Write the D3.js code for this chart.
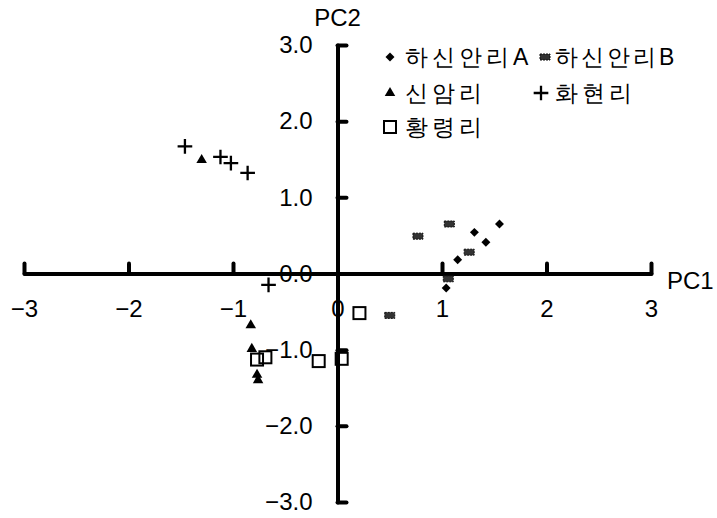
<!DOCTYPE html>
<meta charset="utf-8">
<style>
  body { margin: 0; background: #fff; }
  text { font-family: "Liberation Sans", Arial, sans-serif; fill: #000; }
  .axis path, .axis line { stroke: #000; stroke-width: 4; stroke-linecap: round; }
</style>
<body>
<script src="https://d3js.org/d3.v7.min.js"></script>
<script>

  // tick values
  var ticks = [-3, -2, -1, 0, 1, 2, 3];

  // series (PC1, PC2)
  var hasinA_x = [1.55, 1.31, 1.42, 1.15, 1.04];
  var hasinA_y = [0.65, 0.54, 0.41, 0.18, -0.19];

  var hasinB_x = [0.77, 1.07, 1.26, 1.06, 0.50];
  var hasinB_y = [0.49, 0.65, 0.28, -0.07, -0.55];

  var sinam_x = [-1.30, -0.83, -0.82, -0.77, -0.76];
  var sinam_y = [1.49, -0.68, -0.99, -1.33, -1.40];

  var hwahyeon_x = [-1.46, -1.12, -1.02, -0.86, -0.66];
  var hwahyeon_y = [1.67, 1.53, 1.45, 1.32, -0.15];

  var hwangnyeong_x = [0.21, -0.77, -0.69, -0.18, 0.04];
  var hwangnyeong_y = [-0.52, -1.13, -1.10, -1.15, -1.12];

  var seriesNames = ["하신안리A", "하신안리B", "신암리", "화현리", "황령리"];

  var width = 717, height = 518;

  var svg = d3.select("body").append("svg")
    .attr("width", width)
    .attr("height", height);

  var x = d3.scaleLinear().domain([-3, 3]).range([24, 651]);
  var y = d3.scaleLinear().domain([-3, 3]).range([502, 45]);

  // x axis through y = 0, ticks pointing up, labels below
  svg.append("g")
    .attr("class", "axis")
    .attr("transform", "translate(0," + y(0) + ")")
    .call(d3.axisBottom(x).tickValues(ticks).tickSize(-10).tickSizeOuter(0).tickPadding(29)
      .tickFormat(function (d) { return d < 0 ? "\u2212" + Math.abs(d) : d; }))
    .call(function (g) { g.selectAll("text").attr("dy", "0.6em"); });

  // y axis through x = 0, ticks pointing right, labels left
  svg.append("g")
    .attr("class", "axis")
    .attr("transform", "translate(" + x(0) + ",0)")
    .call(d3.axisLeft(y).tickValues(ticks).tickSize(-9).tickSizeOuter(0).tickPadding(25)
      .tickFormat(function (d) { return d === 0 ? "0.0" : d3.format(".1f")(d); }));

  svg.selectAll(".axis .domain").attr("fill", "none");
  svg.selectAll(".axis").attr("font-size", 24).attr("font-family", "Liberation Sans, Arial, sans-serif");

  // axis titles
  svg.append("text").attr("x", x(0)).attr("y", 26).attr("text-anchor", "middle")
    .attr("font-size", 24).text("PC2");
  svg.append("text").attr("x", 667).attr("y", y(0) + 15)
    .attr("font-size", 24).text("PC1");

  // marker drawers
  function drawDiamond(g, px, py) {
    g.append("path").attr("transform", "translate(" + px + "," + py + ") rotate(45)")
      .attr("d", d3.symbol().type(d3.symbolSquare).size(40)).attr("fill", "#000");
  }
  function drawBar(g, px, py) {
    g.append("rect").attr("x", px - 5).attr("y", py - 3).attr("width", 10).attr("height", 6)
      .attr("fill", "#333").attr("stroke", "#111").attr("stroke-width", 1)
      .attr("stroke-dasharray", "2,1");
  }
  function drawTriangle(g, px, py) {
    g.append("path").attr("transform", "translate(" + px + "," + py + ")")
      .attr("d", d3.symbol().type(d3.symbolTriangle).size(48)).attr("fill", "#000");
  }
  function drawPlus(g, px, py) {
    g.append("path").attr("transform", "translate(" + px + "," + py + ")")
      .attr("d", d3.symbol().type(d3.symbolPlus).size(72))
      .attr("fill", "none").attr("stroke", "#000").attr("stroke-width", 2.3);
  }
  function drawSquare(g, px, py) {
    g.append("rect").attr("x", px - 6).attr("y", py - 6).attr("width", 12).attr("height", 12)
      .attr("fill", "none").attr("stroke", "#000").attr("stroke-width", 2);
  }

  var series = [
    { xs: hasinA_x, ys: hasinA_y, draw: drawDiamond },
    { xs: hasinB_x, ys: hasinB_y, draw: drawBar },
    { xs: sinam_x, ys: sinam_y, draw: drawTriangle },
    { xs: hwahyeon_x, ys: hwahyeon_y, draw: drawPlus },
    { xs: hwangnyeong_x, ys: hwangnyeong_y, draw: drawSquare }
  ];

  var pts = svg.append("g");
  series.forEach(function (s) {
    s.xs.forEach(function (v, i) { s.draw(pts, x(v), y(s.ys[i])); });
  });

  // legend: marker x, text x, row y
  var legendPos = [[390, 405, 57], [545, 555, 57], [390, 405, 93], [541, 555, 93], [390, 405, 127]];
  var lg = svg.append("g");
  series.forEach(function (s, i) {
    var p = legendPos[i];
    s.draw(lg, p[0], p[2]);
    lg.append("text").attr("x", p[1]).attr("y", p[2]).attr("dy", "0.36em")
      .attr("font-family", "Noto Sans CJK KR, sans-serif")
      .attr("font-size", 23)
      .attr("letter-spacing", i === 1 ? 3 : 4)
      .text(seriesNames[i]);
  });

</script>
</body>
